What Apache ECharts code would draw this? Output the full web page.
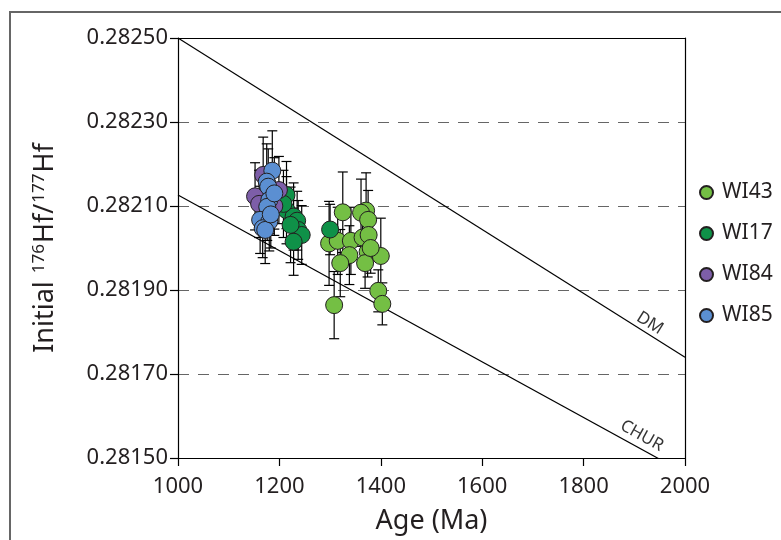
<!DOCTYPE html>
<html>
<head>
<meta charset="utf-8">
<script src="https://cdn.jsdelivr.net/npm/echarts@6/dist/echarts.min.js"></script>
<style>
html, body { margin: 0; padding: 0; background: #fff; }
#chart { width: 781px; height: 540px; }
</style>
</head>
<body>
<div id="chart"></div>
<script>
// Zircon Lu-Hf isotope data: crystallisation age (Ma), initial 176Hf/177Hf and 2-sigma error
const sampleNames = ['WI43', 'WI17', 'WI84', 'WI85'];

const wi43Age = [1325, 1371, 1361, 1375, 1298, 1315, 1341, 1364, 1376, 1374, 1338, 1320, 1369, 1400, 1395, 1403, 1308, 1380];
const wi43Hf  = [0.282085, 0.282089, 0.282084, 0.282067, 0.282011, 0.282017, 0.282017, 0.282025, 0.282031, 0.281991, 0.281983, 0.281964, 0.281964, 0.281981, 0.281898, 0.281867, 0.281864, 0.282000];
const wi43Err = [0.000096, 0.000090, 0.000080, 0.000070, 0.000100, 0.000080, 0.000080, 0.000070, 0.000060, 0.000060, 0.000070, 0.000080, 0.000060, 0.000090, 0.000050, 0.000050, 0.000080, 0.000060];

const wi17Age = [1300, 1214, 1214, 1228, 1235, 1237, 1244, 1228, 1222, 1208];
const wi17Hf  = [0.282044, 0.282126, 0.282090, 0.282075, 0.282065, 0.282043, 0.282031, 0.282015, 0.282055, 0.282105];
const wi17Err = [0.000060, 0.000080, 0.000080, 0.000080, 0.000070, 0.000070, 0.000070, 0.000080, 0.000090, 0.000080];

const wi84Age = [1152, 1160, 1199, 1168, 1190];
const wi84Hf  = [0.282123, 0.282105, 0.282138, 0.282174, 0.282100];
const wi84Err = [0.000080, 0.000080, 0.000080, 0.000090, 0.000070];

const wi85Age = [1186, 1175, 1178, 1180, 1176, 1162, 1180, 1167, 1172, 1190, 1183];
const wi85Hf  = [0.282184, 0.282158, 0.282146, 0.282114, 0.282098, 0.282067, 0.282063, 0.282047, 0.282043, 0.282130, 0.282080];
const wi85Err = [0.000095, 0.000090, 0.000090, 0.000080, 0.000080, 0.000080, 0.000070, 0.000070, 0.000080, 0.000085, 0.000080];

// Reference evolution lines: depleted mantle and chondritic uniform reservoir
const dmAge = [1000, 2000];
const dmHf = [0.28250, 0.28174];
const churAge = [1000, 2000];
const churHf = [0.282126, 0.281464];

// Axis ranges
const ageMin = 1000, ageMax = 2000, ageStep = 200;
const hfMin = 0.28150, hfMax = 0.28250, hfStep = 0.00020;

// The y axis runs in units of 1e-5 above hfMin so ticks land on round values
const HF_UNIT = 1e-5;
const toY = v => Math.round((v - hfMin) / HF_UNIT * 1000) / 1000;

const FONT = 'Noto Sans';
const INK = '#231f20';
const sampleColors = ['#74bf44', '#0f9148', '#7d5ea8', '#5b8fd2'];

const samples = [
  [wi43Age, wi43Hf, wi43Err],
  [wi17Age, wi17Hf, wi17Err],
  [wi84Age, wi84Hf, wi84Err],
  [wi85Age, wi85Hf, wi85Err]
];

function interp(xs, ys, x) {
  const t = (x - xs[0]) / (xs[1] - xs[0]);
  return ys[0] + t * (ys[1] - ys[0]);
}

function renderErrorBar(params, api) {
  const x = api.value(0);
  const top = api.coord([x, api.value(2)]);
  const bot = api.coord([x, api.value(1)]);
  const hw = 5;
  const style = { stroke: '#000', lineWidth: 1.2 };
  return {
    type: 'group',
    children: [
      { type: 'line', shape: { x1: top[0], y1: top[1], x2: bot[0], y2: bot[1] }, style },
      { type: 'line', shape: { x1: top[0] - hw, y1: top[1], x2: top[0] + hw, y2: top[1] }, style },
      { type: 'line', shape: { x1: bot[0] - hw, y1: bot[1], x2: bot[0] + hw, y2: bot[1] }, style }
    ]
  };
}

const series = [];

// Reference lines
series.push({
  type: 'line', name: 'DM', silent: true, symbol: 'none', clip: true,
  lineStyle: { color: '#000', width: 1.2 },
  data: dmAge.map((a, i) => [a, toY(dmHf[i])]), z: 1
});
series.push({
  type: 'line', name: 'CHUR', silent: true, symbol: 'none', clip: true,
  lineStyle: { color: '#000', width: 1.2 },
  data: churAge.map((a, i) => [a, toY(churHf[i])]), z: 1
});

// Line labels
const dmLabelAge = 1912, churLabelAge = 1893;
series.push({
  type: 'scatter', silent: true, symbolSize: 0, z: 3,
  data: [
    { value: [dmLabelAge, toY(interp(dmAge, dmHf, dmLabelAge))], name: 'DM',
      label: { rotate: -32, offset: [5, -10] } },
    { value: [churLabelAge, toY(interp(churAge, churHf, churLabelAge))], name: 'CHUR',
      label: { rotate: -29, offset: [6, -12] } }
  ],
  label: { show: true, position: 'inside', formatter: '{b}', color: '#000', fontFamily: FONT, fontSize: 17 }
});

// Error bars beneath all symbols
samples.forEach((s, k) => {
  series.push({
    type: 'custom', name: sampleNames[k] + ' error', silent: true, z: 2,
    renderItem: renderErrorBar,
    encode: { x: 0, y: [1, 2] },
    data: s[0].map((a, i) => [a, toY(s[1][i] - s[2][i]), toY(s[1][i] + s[2][i])])
  });
});

// Sample symbols
samples.forEach((s, k) => {
  series.push({
    type: 'scatter', name: sampleNames[k], z: 5,
    symbol: 'circle', symbolSize: 17,
    itemStyle: { color: sampleColors[k], borderColor: INK, borderWidth: 1, opacity: 1 },
    data: s[0].map((a, i) => [a, toY(s[1][i])])
  });
});

const chart = echarts.init(document.getElementById('chart'), null, { renderer: 'canvas' });
chart.setOption({
  animation: false,
  backgroundColor: '#fff',
  textStyle: { fontFamily: FONT },
  grid: { left: 178, top: 38, right: 96, bottom: 82, show: false },
  legend: {
    data: sampleNames,
    orient: 'vertical',
    left: 694, top: 177,
    itemWidth: 13, itemHeight: 13, itemGap: 20,
    icon: 'circle',
    textStyle: { fontFamily: FONT, fontSize: 21, color: INK, padding: [0, 0, 0, 4] }
  },
  xAxis: [{
    type: 'value', min: ageMin, max: ageMax, interval: ageStep,
    name: 'Age (Ma)', nameLocation: 'middle', nameGap: 50,
    nameTextStyle: { fontFamily: FONT, fontSize: 27, color: INK },
    axisLine: { show: true, onZero: false, lineStyle: { color: '#000', width: 1.2 } },
    axisTick: { show: true, inside: false, length: 8, lineStyle: { color: '#000', width: 1.2 } },
    axisLabel: { fontFamily: FONT, fontSize: 22, color: INK, margin: 18, formatter: v => String(v) },
    splitLine: { show: false }
  }, {
    type: 'value', position: 'top', min: ageMin, max: ageMax,
    axisLine: { show: true, onZero: false, lineStyle: { color: '#000', width: 1.2 } },
    axisTick: { show: false }, axisLabel: { show: false }, splitLine: { show: false }
  }],
  yAxis: [{
    type: 'value', min: 0, max: toY(hfMax), interval: hfStep / HF_UNIT,
    name: 'Initial {s|176}Hf/{s|177}Hf', nameLocation: 'middle', nameGap: 118, nameRotate: 90,
    nameTextStyle: {
      fontFamily: FONT, fontSize: 27, color: INK,
      rich: { s: { fontFamily: FONT, fontSize: 17, color: INK, verticalAlign: 'top', padding: [0, 1, 12, 1] } }
    },
    axisLine: { show: true, onZero: false, lineStyle: { color: '#000', width: 1.2 } },
    axisTick: { show: true, inside: false, length: 8, lineStyle: { color: '#000', width: 1.2 } },
    axisLabel: {
      fontFamily: FONT, fontSize: 22, color: INK, margin: 10,
      formatter: v => (hfMin + v * HF_UNIT).toFixed(5)
    },
    splitLine: {
      show: true, showMinLine: false, showMaxLine: false,
      lineStyle: { color: '#666', width: 1.2, type: [11, 9] }
    }
  }, {
    type: 'value', position: 'right', min: 0, max: toY(hfMax),
    axisLine: { show: true, onZero: false, lineStyle: { color: '#000', width: 1.2 } },
    axisTick: { show: false }, axisLabel: { show: false }, splitLine: { show: false }
  }],
  graphic: [{
    type: 'rect', silent: true, z: -1,
    shape: { x: 10, y: 12, width: 800, height: 560 },
    style: { fill: 'none', stroke: '#666', lineWidth: 2 }
  }],
  series
});
</script>
</body>
</html>
